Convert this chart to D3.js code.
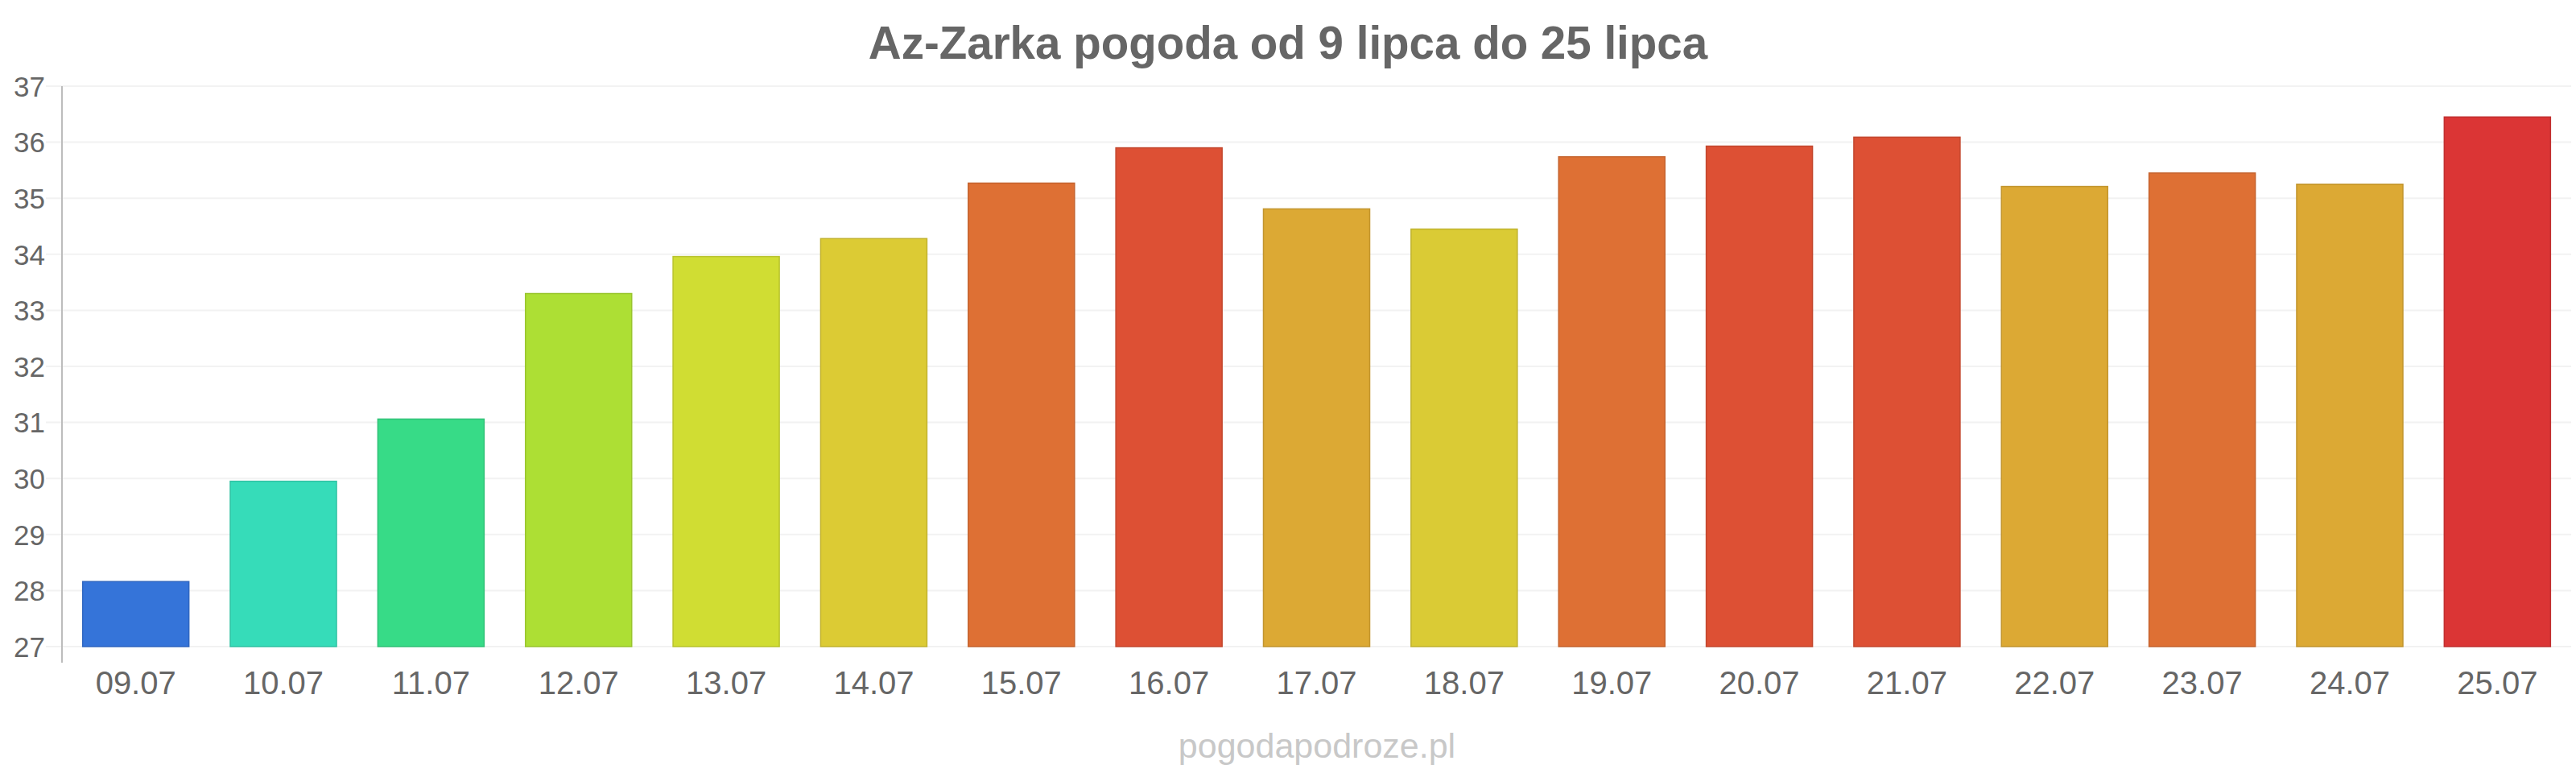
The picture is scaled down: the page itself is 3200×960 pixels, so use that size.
<!DOCTYPE html>
<html>
<head>
<meta charset="utf-8">
<script src="https://cdn.jsdelivr.net/npm/d3@7"></script>
<style>
  html, body { margin: 0; padding: 0; background: #fff; }
  svg { display: block; }
</style>
</head>
<body>
<svg id="chart" width="3200" height="960"></svg>
<script>
const categories = ["09.07","10.07","11.07","12.07","13.07","14.07","15.07","16.07","17.07","18.07","19.07","20.07","21.07","22.07","23.07","24.07","25.07"];
const temps = [28.16, 29.95, 31.06, 33.3, 33.96, 34.28, 35.27, 35.9, 34.81, 34.45, 35.74, 35.93, 36.09, 35.21, 35.45, 35.25, 36.45];
const barColors = ["#3574d9","#36dcb9","#37db87","#addf34","#d0dd33","#dccb34","#de7034","#dd5034","#dca934","#dacb35","#de7034","#dd5034","#dd5034","#dca934","#de7034","#dca934","#db3535"];
const yTicks = [27, 28, 29, 30, 31, 32, 33, 34, 35, 36, 37];
const titleText = "Az-Zarka pogoda od 9 lipca do 25 lipca";
const watermark = "pogodapodroze.pl";

const svg = d3.select("#chart");
const font = "'Liberation Sans', Arial, sans-serif";

const x = d3.scaleBand().domain(categories).range([77, 3194]).paddingInner(0.28).paddingOuter(0.14);
const y = d3.scaleLinear().domain([27, 37]).range([803, 107]);

// gridlines
svg.append("g").selectAll("line").data(yTicks).join("line")
  .attr("x1", 57).attr("x2", 3194)
  .attr("y1", d => y(d)).attr("y2", d => y(d))
  .attr("stroke", "#f2f2f2").attr("stroke-width", 2);

// y axis
const yAxis = d3.axisLeft(y).tickValues(yTicks).tickSize(0).tickPadding(21);
const gy = svg.append("g").attr("transform", "translate(77,0)").call(yAxis);
gy.select(".domain").remove();
gy.selectAll("text").attr("font-family", font).attr("font-size", 35).attr("fill", "#666").attr("dy", "0.35em");
svg.append("line").attr("x1", 77).attr("x2", 77).attr("y1", 107).attr("y2", 823)
  .attr("stroke", "#bdbdbd").attr("stroke-width", 2);

// bars
svg.append("g").selectAll("rect").data(temps).join("rect")
  .attr("x", (d, i) => x(categories[i]))
  .attr("width", x.bandwidth())
  .attr("y", d => y(d))
  .attr("height", d => y(27) - y(d))
  .attr("fill", (d, i) => barColors[i])
  .attr("stroke", (d, i) => d3.color(barColors[i]).darker(0.35))
  .attr("stroke-width", 1.5);

// x axis
const xAxis = d3.axisBottom(x).tickSize(0).tickPadding(0);
const gx = svg.append("g").attr("transform", "translate(0,803)").call(xAxis);
gx.select(".domain").remove();
gx.selectAll("text").attr("font-family", font).attr("font-size", 40).attr("fill", "#666")
  .attr("dy", null).attr("y", 59);

// title
svg.append("text").attr("x", 1600).attr("y", 73).attr("text-anchor", "middle")
  .attr("font-family", font).attr("font-weight", "bold").attr("font-size", 56.5).attr("fill", "#666")
  .text(titleText);

// watermark
svg.append("text").attr("x", 1636).attr("y", 941).attr("text-anchor", "middle")
  .attr("font-family", font).attr("font-size", 43).attr("fill", "#c8c8c8")
  .text(watermark);
</script>
</body>
</html>
